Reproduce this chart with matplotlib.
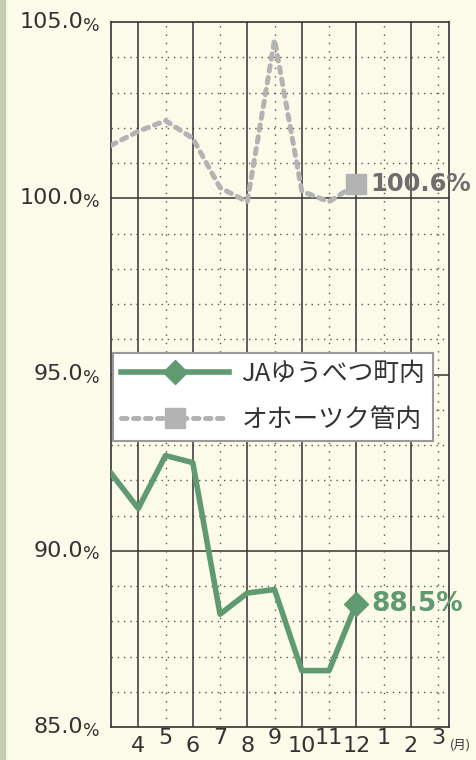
import matplotlib.pyplot as plt
from matplotlib.patches import Rectangle
from matplotlib.transforms import blended_transform_factory

plt.rcParams['font.family'] = ['Noto Sans CJK JP', 'DejaVu Sans']

# data (index 0 = previous March, 1 = April ... 12 = March)
months = ['4', '5', '6', '7', '8', '9', '10', '11', '12', '1', '2', '3']
ja_vals = [92.2, 91.2, 92.7, 92.5, 88.2, 88.8, 88.9, 86.6, 86.6, 88.5]
okh_vals = [101.5, 101.9, 102.2, 101.7, 100.3, 99.9, 104.5, 100.2, 99.9, 100.4]
y_ticks = [85, 90, 95, 100, 105]
ja_label = 'JAゆうべつ町内'
okh_label = 'オホーツク管内'
ja_last = '88.5%'
okh_last = '100.6%'
unit = '(月)'

bg = '#fcfbe9'
green = '#5f9a70'
grey = '#b3b3b3'
ink = '#333333'

fig = plt.figure(figsize=(4.76, 7.6), dpi=100, facecolor=bg)
fig.patches.append(Rectangle((0, 0), 5 / 476, 1, transform=fig.transFigure,
                             color='#c5cfb0', zorder=0))
ax = fig.add_axes([111 / 476, 33 / 760, 338 / 476, 705 / 760])
ax.set_facecolor(bg)
ax.set_xlim(0, 12.4)
ax.set_ylim(85, 105)
ax.set_xticks([])
ax.set_yticks([])
for s in ax.spines.values():
    s.set_color(ink)
    s.set_linewidth(1.2)

# grid
for v in range(86, 105):
    if v % 5 == 0:
        ax.axhline(v, color=ink, lw=1.1, zorder=1)
    else:
        ax.axhline(v, color='#555555', lw=1.0, ls=(0, (1, 3.5)), zorder=1)
for i in range(1, 13):
    if i % 2 == 1:
        ax.axvline(i, color=ink, lw=1.1, zorder=1)
    else:
        ax.axvline(i, color='#555555', lw=1.0, ls=(0, (1, 5)), zorder=1)

# lines
xj = list(range(len(ja_vals)))
xo = list(range(len(okh_vals)))
ax.plot(xo, okh_vals, color=grey, lw=3.6, dashes=(1.1, 1.3), dash_capstyle='round',
        marker='s', ms=15, markevery=[len(xo) - 1], label=okh_label, zorder=3)
ax.plot(xj, ja_vals, color=green, lw=4.0, marker='D', ms=12,
        markevery=[len(xj) - 1], label=ja_label, zorder=4)

ax.annotate(ja_last, (xj[-1], ja_vals[-1]), xytext=(11, 0), textcoords='offset points',
            va='center', ha='left', color=green, fontsize=19, fontweight='bold',
            family='DejaVu Sans', annotation_clip=False)
ax.annotate(okh_last, (xo[-1], okh_vals[-1]), xytext=(10, 0), textcoords='offset points',
            va='center', ha='left', color='#6e6e6e', fontsize=17.5, fontweight='bold',
            family='DejaVu Sans', annotation_clip=False)

# legend
h, l = ax.get_legend_handles_labels()
leg = ax.legend(h[::-1], l[::-1], loc='upper left',
                bbox_to_anchor=(113 / 476, 1 - 353 / 760), bbox_transform=fig.transFigure,
                fontsize=18.5, frameon=True, fancybox=False, edgecolor='#999999',
                facecolor='white', framealpha=1, handlelength=4.2, handletextpad=0.5,
                borderpad=0.3, borderaxespad=0, labelspacing=0.8, labelcolor=ink,
                numpoints=1)
leg.get_frame().set_linewidth(1.5)
leg.set_zorder(6)

# y labels
ty = blended_transform_factory(fig.transFigure, ax.transData)
for v in y_ticks:
    ax.text(83 / 476, v, f'{v:.1f}', transform=ty, ha='right', va='center',
            fontsize=16, color=ink, family='DejaVu Sans')
    ax.text(83 / 476, v - 0.1, '%', transform=ty, ha='left', va='center',
            fontsize=12.5, color=ink, family='DejaVu Sans')

# x labels (alternating heights)
tx = blended_transform_factory(ax.transData, fig.transFigure)
for i, m in enumerate(months):
    y = 1 - 746 / 760 if i % 2 == 0 else 1 - 738 / 760
    ax.text(i + 1, y, m, transform=tx, ha='center', va='center',
            fontsize=16, color=ink, family='DejaVu Sans')
ax.text(12.45, 1 - 745 / 760, unit, transform=tx, ha='left', va='center',
        fontsize=9, color=ink)

fig.savefig('out.png', dpi=100, facecolor=bg)
